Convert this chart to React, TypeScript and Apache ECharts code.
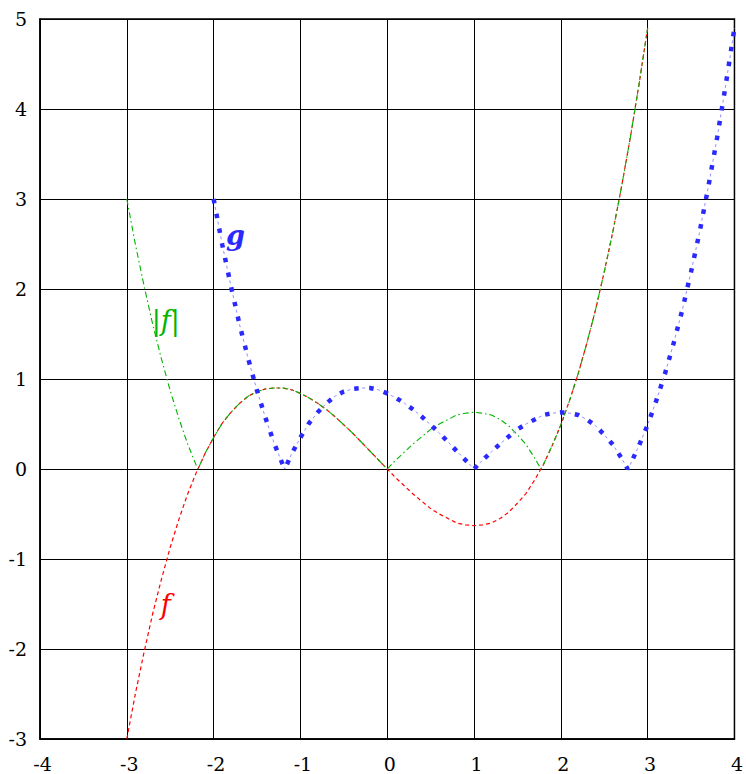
import React, { useEffect, useRef } from "react";
import * as echarts from "echarts";

// x samples (step 0.1, plus the two non-zero roots)
const fX = [
  -3.0, -2.9, -2.8, -2.7, -2.6, -2.5, -2.4, -2.3, -2.2, -2.18, -2.1, -2.0, -1.9, -1.8, -1.7, -1.6,
  -1.5, -1.4, -1.3, -1.2, -1.1, -1.0, -0.9, -0.8, -0.7, -0.6, -0.5, -0.4, -0.3, -0.2, -0.1, 0.0,
  0.1, 0.2, 0.3, 0.4, 0.5, 0.6, 0.7, 0.8, 0.9, 1.0, 1.1, 1.2, 1.3, 1.4, 1.5, 1.6, 1.7, 1.77, 1.8,
  1.9, 2.0, 2.1, 2.2, 2.3, 2.4, 2.5, 2.6, 2.7, 2.8, 2.9, 3.0,
];
// f values
const fValues = [
  -3.0, -2.49, -2.03, -1.6, -1.22, -0.87, -0.56, -0.28, -0.04, 0.0, 0.17, 0.35, 0.51, 0.63, 0.73, 0.81,
  0.86, 0.89, 0.9, 0.9, 0.88, 0.84, 0.79, 0.73, 0.66, 0.58, 0.49, 0.4, 0.3, 0.2, 0.1, 0.0,
  -0.1, -0.19, -0.28, -0.36, -0.44, -0.5, -0.55, -0.6, -0.62, -0.63, -0.62, -0.6, -0.55, -0.48, -0.38, -0.27, -0.12, 0.0, 0.05,
  0.26, 0.49, 0.76, 1.06, 1.4, 1.77, 2.19, 2.64, 3.14, 3.68, 4.27, 4.9,
];
// |f| values
const absFValues = [
  3.0, 2.49, 2.03, 1.6, 1.22, 0.87, 0.56, 0.28, 0.04, 0.0, 0.17, 0.35, 0.51, 0.63, 0.73, 0.81,
  0.86, 0.89, 0.9, 0.9, 0.88, 0.84, 0.79, 0.73, 0.66, 0.58, 0.49, 0.4, 0.3, 0.2, 0.1, 0.0,
  0.1, 0.19, 0.28, 0.36, 0.44, 0.5, 0.55, 0.6, 0.62, 0.63, 0.62, 0.6, 0.55, 0.48, 0.38, 0.27, 0.12, 0.0, 0.05,
  0.26, 0.49, 0.76, 1.06, 1.4, 1.77, 2.19, 2.64, 3.14, 3.68, 4.27, 4.9,
];
// g samples
const gX = [
  -2.0, -1.9, -1.8, -1.7, -1.6, -1.5, -1.4, -1.3, -1.2, -1.18, -1.1, -1.0, -0.9, -0.8, -0.7, -0.6,
  -0.5, -0.4, -0.3, -0.2, -0.1, 0.0, 0.1, 0.2, 0.3, 0.4, 0.5, 0.6, 0.7, 0.8, 0.9, 1.0,
  1.1, 1.2, 1.3, 1.4, 1.5, 1.6, 1.7, 1.8, 1.9, 2.0, 2.1, 2.2, 2.3, 2.4, 2.5, 2.6, 2.7, 2.77, 2.8,
  2.9, 3.0, 3.1, 3.2, 3.3, 3.4, 3.5, 3.6, 3.7, 3.8, 3.9, 4.0,
];
const gValues = [
  3.0, 2.49, 2.03, 1.6, 1.22, 0.87, 0.56, 0.28, 0.04, 0.0, 0.17, 0.35, 0.51, 0.63, 0.73, 0.81,
  0.86, 0.89, 0.9, 0.9, 0.88, 0.84, 0.79, 0.73, 0.66, 0.58, 0.49, 0.4, 0.3, 0.2, 0.1, 0.0,
  0.1, 0.19, 0.28, 0.36, 0.44, 0.5, 0.55, 0.6, 0.62, 0.63, 0.62, 0.6, 0.55, 0.48, 0.38, 0.27, 0.12, 0.0, 0.05,
  0.26, 0.49, 0.76, 1.06, 1.4, 1.77, 2.19, 2.64, 3.14, 3.68, 4.27, 4.9,
];

const xTicks = { min: -4, max: 4, interval: 1 };
const yTicks = { min: -3, max: 5, interval: 1 };

const curveLabels = [
  { text: "g", x: -1.75, y: 2.6, color: "#2a2aff", weight: "bold" },
  { text: "|f|", x: -2.55, y: 1.65, color: "#00b400", weight: "normal" },
  { text: "f", x: -2.55, y: -1.5, color: "#ff0000", weight: "normal" },
];

const FONT = "DejaVu Serif";

function zip(xs: number[], ys: number[]) {
  return xs.map((x, i) => [x, ys[i]]);
}

export default function App() {
  const ref = useRef<HTMLDivElement>(null);
  useEffect(() => {
    document.body.style.margin = "0";
    if (!ref.current) return;
    const chart = echarts.init(ref.current, null, { renderer: "svg" });
    const grid = { left: 40, top: 19, width: 696, height: 720 };
    chart.setOption({
      animation: false,
      backgroundColor: "#fff",
      textStyle: { fontFamily: FONT },
      grid: { ...grid, show: true, borderColor: "#000", borderWidth: 1.5, backgroundColor: "transparent" },
      xAxis: {
        type: "value",
        ...xTicks,
        axisLine: { show: true, onZero: false, lineStyle: { color: "#000", width: 1.5 } },
        axisTick: { show: false },
        axisLabel: {
          color: "#000",
          fontFamily: FONT,
          fontSize: 19,
          margin: 15,
          padding: [0, 0, 0, 5],
        },
        splitLine: { show: true, lineStyle: { color: "#000", width: 1 } },
      },
      yAxis: {
        type: "value",
        ...yTicks,
        axisLine: { show: true, onZero: false, lineStyle: { color: "#000", width: 1.5 } },
        axisTick: { show: false },
        axisLabel: { color: "#000", fontFamily: FONT, fontSize: 19, margin: 13 },
        splitLine: { show: true, lineStyle: { color: "#000", width: 1 } },
      },
      series: [
        {
          type: "line",
          name: "f",
          data: zip(fX, fValues),
          showSymbol: false,
          lineStyle: { color: "#ff0000", width: 1.2, type: [4, 3] },
          z: 2,
        },
        {
          type: "line",
          name: "|f|",
          data: zip(fX, absFValues),
          showSymbol: false,
          lineStyle: { color: "#00b400", width: 1.1, type: [6, 3, 1.5, 3] },
          z: 3,
        },
        {
          type: "line",
          name: "g",
          data: zip(gX, gValues),
          showSymbol: false,
          lineStyle: { color: "#2a2aff", width: 4.5, type: [4.5, 10.5], cap: "butt" },
          z: 4,
        },
        {
          type: "line",
          name: "g-thin",
          data: zip(gX, gValues),
          showSymbol: false,
          lineStyle: { color: "#9090ff", width: 1, type: [3, 12], dashOffset: 6.75 },
          z: 4,
        },
      ],
    });
    const elems = curveLabels.map((l) => {
      const [px, py] = chart.convertToPixel({ gridIndex: 0 }, [l.x, l.y]) as number[];
      return {
        type: "text",
        x: px,
        y: py,
        z: 10,
        style: {
          text: l.text,
          fill: l.color,
          font: `italic ${l.weight} 27px "${FONT}"`,
          align: "center",
          verticalAlign: "middle",
        },
      };
    });
    chart.setOption({ graphic: elems });
    return () => chart.dispose();
  }, []);
  return <div ref={ref} style={{ width: 746, height: 774 }} />;
}
